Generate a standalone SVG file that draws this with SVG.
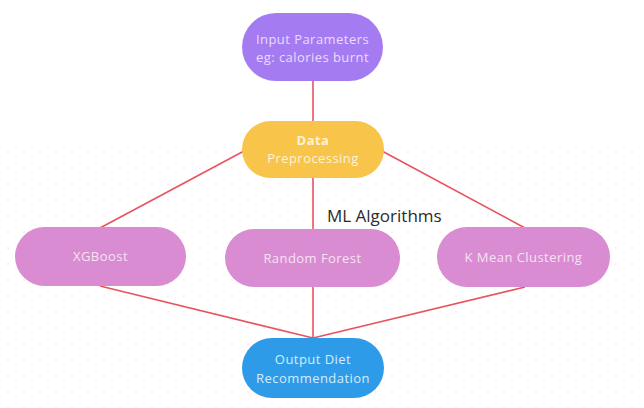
<svg xmlns="http://www.w3.org/2000/svg" width="644" height="408" viewBox="0 0 644 408">
<defs>
<pattern id="dots" x="0" y="0" width="16" height="16" patternUnits="userSpaceOnUse">
<circle cx="8" cy="8" r="1.3" fill="#FCEBF0"/>
</pattern>
<style>
.edge{stroke:#E8535F;stroke-width:1.6;fill:none}
.t{font-family:"Open Sans","Noto Sans",sans-serif;font-size:13px;text-anchor:middle;letter-spacing:0.45px}
.alg{fill:#D98CD2}
.alg-t{fill:#F6E2F3}
</style>
</defs>
<rect width="644" height="408" fill="#FFFFFF"/>
<rect x="0" y="140" width="644" height="268" fill="url(#dots)"/>
<g id="connectors">
<line class="edge" x1="313" y1="81" x2="313" y2="121"/>
<line class="edge" x1="244" y1="151" x2="100" y2="228"/>
<line class="edge" x1="382" y1="151" x2="525" y2="228"/>
<line class="edge" x1="313" y1="178" x2="313" y2="229"/>
<line class="edge" x1="100" y1="286" x2="313" y2="338"/>
<line class="edge" x1="313" y1="287" x2="313" y2="338"/>
<line class="edge" x1="525" y1="287" x2="313" y2="338"/>
</g>
<g id="input">
<rect x="242" y="13" width="141" height="68" rx="34" fill="#A57BF2"/>
<text class="t" x="312.5" y="44" fill="#E9DDFC">Input Parameters</text>
<text class="t" x="312.5" y="62" fill="#E9DDFC">eg: calories burnt</text>
</g>
<g id="data">
<rect x="242" y="121" width="142" height="57" rx="28.5" fill="#F8C54A"/>
<text class="t" x="313" y="145" fill="#FDF3D6" font-weight="bold">Data</text>
<text class="t" x="313" y="163" fill="#FDF3D6">Preprocessing</text>
</g>
<g id="xgboost">
<rect class="alg" x="15" y="227" width="171" height="59" rx="29.5"/>
<text class="t alg-t" x="100.5" y="261">XGBoost</text>
</g>
<g id="randomforest">
<rect class="alg" x="225" y="229" width="175" height="58" rx="29"/>
<text class="t alg-t" x="312.5" y="263">Random Forest</text>
</g>
<g id="kmean">
<rect class="alg" x="437" y="227" width="173" height="60" rx="30"/>
<text class="t alg-t" x="523.5" y="262">K Mean Clustering</text>
</g>
<g id="output">
<rect x="242" y="338" width="142" height="60" rx="30" fill="#2E9BE8"/>
<text class="t" x="313" y="364" fill="#D6ECFB">Output Diet</text>
<text class="t" x="313" y="383" fill="#D6ECFB">Recommendation</text>
</g>
<g id="label">
<text x="327" y="222" font-family="'Open Sans','Noto Sans',sans-serif" font-size="17px" fill="#2B2B2B">ML Algorithms</text>
</g>
</svg>
